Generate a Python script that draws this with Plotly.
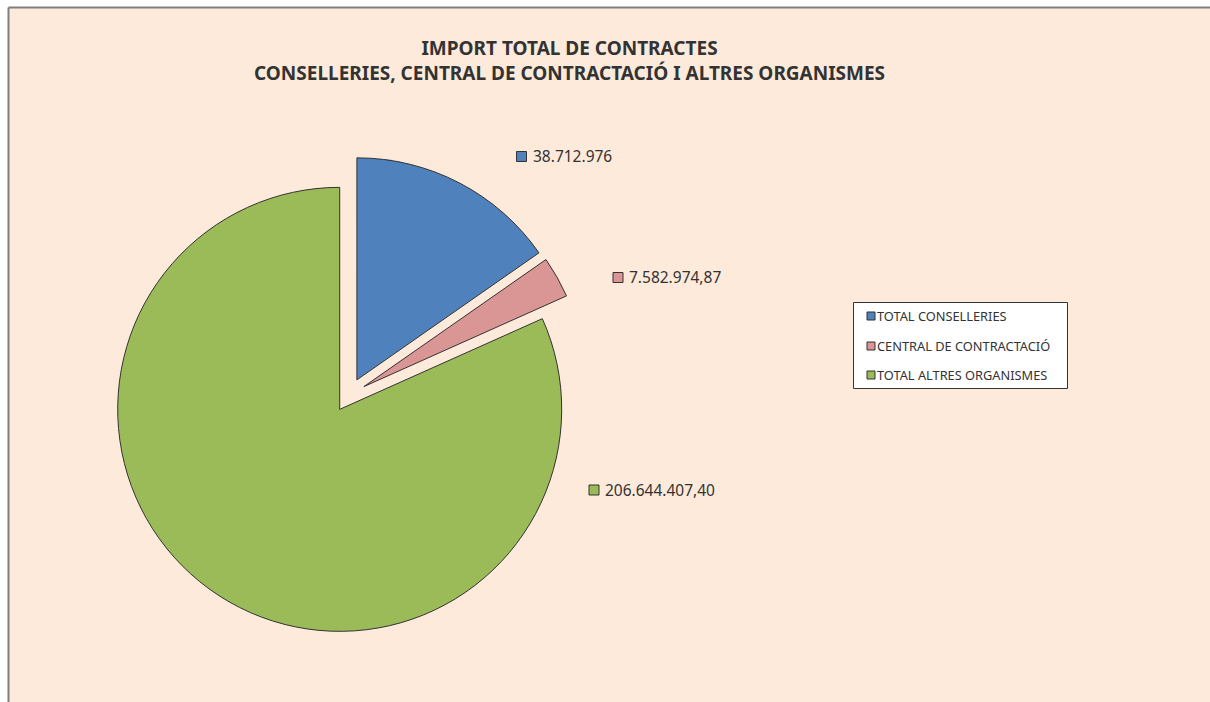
import plotly.graph_objects as go

categories = ["TOTAL CONSELLERIES", "CENTRAL DE CONTRACTACIÓ", "TOTAL ALTRES ORGANISMES"]
values = [38712976, 7582974.87, 206644407.40]
value_labels = ["38.712.976", "7.582.974,87", "206.644.407,40"]
colors = ["#4F81BD", "#D99694", "#9BBB59"]

W, H = 1210, 702

def px(x):
    return x / W

def py(y):
    return 1 - y / H

# pie geometry (pixels)
cx, cy = 349, 395
radius = 222
pull = 0.077
half = radius * (1 + pull)

fig = go.Figure()
fig.add_trace(go.Pie(
    labels=categories,
    values=values,
    sort=False,
    direction="clockwise",
    rotation=0,
    pull=[pull] * 3,
    marker=dict(colors=colors, line=dict(color="#333333", width=1)),
    textinfo="none",
    hoverinfo="label+value",
    showlegend=False,
    domain=dict(x=[px(cx - half), px(cx + half)], y=[py(cy + half), py(cy - half)]),
))

shapes = []
annotations = []

# chart area background + border (top and left edges visible)
shapes.append(dict(type="rect", xref="paper", yref="paper", layer="below",
                   x0=px(8.5), x1=1, y0=0, y1=py(7.5),
                   fillcolor="#FDEADA", line=dict(width=0)))
shapes.append(dict(type="line", xref="paper", yref="paper", layer="below",
                   x0=px(8.5), x1=1, y0=py(7.5), y1=py(7.5),
                   line=dict(color="#7F7F7F", width=2)))
shapes.append(dict(type="line", xref="paper", yref="paper", layer="below",
                   x0=px(8.5), x1=px(8.5), y0=0, y1=py(7.5),
                   line=dict(color="#7F7F7F", width=2)))

# title
annotations.append(dict(xref="paper", yref="paper", x=px(569.5), y=py(60.5),
                        xanchor="center", yanchor="middle", showarrow=False,
                        text="<b>IMPORT TOTAL DE CONTRACTES<br>CONSELLERIES, CENTRAL DE CONTRACTACIÓ I ALTRES ORGANISMES</b>",
                        font=dict(family="Noto Sans", size=19, color="#333333"),
                        align="center"))

# data labels with colored keys
label_pos = [(521.5, 156.5), (618, 277.5), (594, 490)]
for (lx, ly), txt, col in zip(label_pos, value_labels, colors):
    shapes.append(dict(type="rect", xref="paper", yref="paper",
                       x0=px(lx - 5), x1=px(lx + 5), y0=py(ly + 5), y1=py(ly - 5),
                       fillcolor=col, line=dict(color="#333333", width=1)))
    annotations.append(dict(xref="paper", yref="paper", x=px(lx + 9), y=py(ly),
                            xanchor="left", yanchor="middle", showarrow=False,
                            text=txt, font=dict(family="Noto Sans", size=15.5, color="#333333")))

# legend box
shapes.append(dict(type="rect", xref="paper", yref="paper",
                   x0=px(853.5), x1=px(1067.5), y0=py(388.5), y1=py(302.5),
                   fillcolor="#FFFFFF", line=dict(color="#333333", width=1)))
leg_y = [316, 346, 375]
for ly, cat, col in zip(leg_y, categories, colors):
    shapes.append(dict(type="rect", xref="paper", yref="paper",
                       x0=px(867), x1=px(875), y0=py(ly + 4), y1=py(ly - 4),
                       fillcolor=col, line=dict(color="#333333", width=1)))
    annotations.append(dict(xref="paper", yref="paper", x=px(875), y=py(ly),
                            xanchor="left", yanchor="middle", showarrow=False,
                            text=cat, font=dict(family="Noto Sans", size=12.8, color="#333333")))

fig.update_layout(
    width=W, height=H,
    margin=dict(l=0, r=0, t=0, b=0),
    paper_bgcolor="#FFFFFF",
    shapes=shapes,
    annotations=annotations,
    showlegend=False,
)

fig.write_html(
    "out.html",
    config={"displayModeBar": False},
    post_script="document.body.style.margin='0';document.body.style.overflow='hidden';",
)
